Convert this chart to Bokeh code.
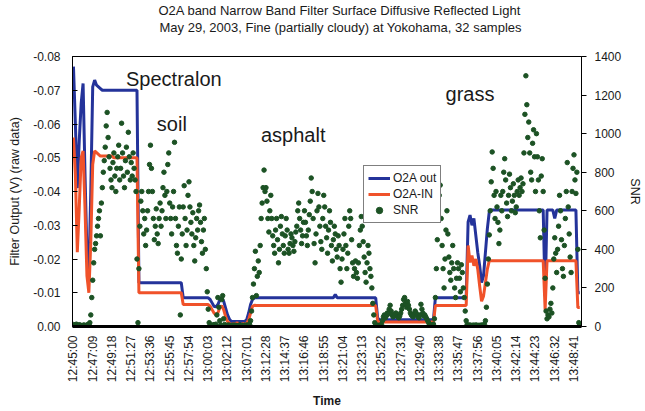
import math
from bokeh.plotting import figure
from bokeh.models import (Range1d, LinearAxis, FixedTicker, PrintfTickFormatter,
                          Label, Legend, LegendItem, Title)
from bokeh.embed import file_html
from bokeh.resources import INLINE

FONT = "Liberation Sans"

title_lines = ["O2A band Narrow Band Filter Surface Diffusive Reflected Light",
               "May 29, 2003, Fine (partially cloudy) at Yokohama, 32 samples"]

time_labels = ["12:45:00", "12:47:09", "12:49:18", "12:51:27", "12:53:36", "12:55:45",
               "12:57:54", "13:00:03", "13:02:12", "13:07:01", "13:12:28", "13:14:37",
               "13:16:46", "13:18:55", "13:21:04", "13:23:13", "13:25:22", "13:27:31",
               "13:29:40", "13:33:38", "13:35:47", "13:37:56", "13:40:05", "13:42:14",
               "13:44:23", "13:46:32", "13:48:41"]
samples_per_label = 10

o2a_out = [
    -0.077, -0.060, -0.041, -0.055, -0.066, -0.072, -0.045, -0.022, -0.015, -0.040,
    -0.071, -0.073, -0.0715, -0.071, -0.0705, -0.070, -0.070, -0.070, -0.070, -0.070,
    -0.070, -0.070, -0.070, -0.070, -0.070, -0.070, -0.070, -0.070, -0.070, -0.070,
    -0.070, -0.070, -0.070, -0.070, -0.013, -0.013, -0.013, -0.013, -0.013, -0.013,
    -0.013, -0.013, -0.013, -0.013, -0.013, -0.013, -0.013, -0.013, -0.013, -0.013,
    -0.013, -0.013, -0.013, -0.013, -0.013, -0.013, -0.013, -0.0085, -0.0085, -0.0085,
    -0.0085, -0.0085, -0.0085, -0.0085, -0.0085, -0.0085, -0.0085, -0.0085, -0.0085, -0.0085,
    -0.0085, -0.0080, -0.0070, -0.0060, -0.0058, -0.0065, -0.0078, -0.0085, -0.0075, -0.0055,
    -0.0035, -0.0022, -0.0015, -0.0015, -0.0015, -0.0015, -0.0015, -0.0015, -0.0015, -0.0015,
    -0.0020, -0.0040, -0.0065, -0.0080, -0.0085, -0.0085, -0.0085, -0.0085, -0.0085, -0.0085,
    -0.0085, -0.0085, -0.0085, -0.0085, -0.0085, -0.0085, -0.0085, -0.0085, -0.0085, -0.0085,
    -0.0085, -0.0085, -0.0085, -0.0085, -0.0085, -0.0085, -0.0085, -0.0085, -0.0085, -0.0085,
    -0.0085, -0.0085, -0.0085, -0.0085, -0.0085, -0.0085, -0.0085, -0.0085, -0.0085, -0.0085,
    -0.0085, -0.0085, -0.0085, -0.0085, -0.0085, -0.0085, -0.0095, -0.0085, -0.0085, -0.0085,
    -0.0085, -0.0085, -0.0085, -0.0085, -0.0085, -0.0085, -0.0085, -0.0085, -0.0085, -0.0085,
    -0.0085, -0.0085, -0.0085, -0.0085, -0.0085, -0.0085, -0.0085, -0.0085, -0.0025, -0.0020,
    -0.0020, -0.0020, -0.0020, -0.0020, -0.0020, -0.0020, -0.0020, -0.0020, -0.0020, -0.0020,
    -0.0020, -0.0020, -0.0020, -0.0020, -0.0020, -0.0020, -0.0020, -0.0020, -0.0020, -0.0020,
    -0.0020, -0.0020, -0.0020, -0.0020, -0.0020, -0.0020, -0.0020, -0.0020, -0.0085, -0.0085,
    -0.0085, -0.0085, -0.0085, -0.0085, -0.0085, -0.0085, -0.0085, -0.0085, -0.0085, -0.0085,
    -0.0085, -0.0085, -0.0085, -0.0085, -0.0085, -0.031, -0.033, -0.030, -0.032, -0.027,
    -0.022, -0.018, -0.013, -0.015, -0.022, -0.029, -0.034, -0.0345, -0.0345, -0.0345,
    -0.0345, -0.0345, -0.0345, -0.0345, -0.0345, -0.0345, -0.0345, -0.0345, -0.0345, -0.0345,
    -0.0345, -0.0345, -0.0345, -0.0345, -0.0345, -0.0345, -0.0345, -0.0345, -0.0345, -0.0345,
    -0.0345, -0.0345, -0.0345, -0.0345, -0.0345, -0.009, -0.0345, -0.0345, -0.0345, -0.0345,
    -0.032, -0.0345, -0.0345, -0.0345, -0.0345, -0.0345, -0.0345, -0.0345, -0.0345, -0.0345,
    -0.0345, -0.0345, -0.010, -0.010,
]

o2a_in = [
    -0.056, -0.045, -0.022, -0.035, -0.050, -0.052, -0.035, -0.015, -0.010, -0.025,
    -0.048, -0.052, -0.0515, -0.051, -0.0505, -0.0505, -0.0505, -0.0505, -0.0505, -0.0505,
    -0.0505, -0.050, -0.050, -0.050, -0.050, -0.050, -0.050, -0.050, -0.050, -0.050,
    -0.050, -0.050, -0.050, -0.050, -0.010, -0.010, -0.010, -0.010, -0.010, -0.010,
    -0.010, -0.010, -0.010, -0.010, -0.010, -0.010, -0.010, -0.010, -0.010, -0.010,
    -0.010, -0.010, -0.010, -0.010, -0.010, -0.010, -0.010, -0.0065, -0.0065, -0.0065,
    -0.0065, -0.0065, -0.0065, -0.0065, -0.0065, -0.0065, -0.0065, -0.0065, -0.0065, -0.0065,
    -0.0065, -0.0060, -0.0050, -0.0040, -0.0035, -0.0040, -0.0055, -0.0062, -0.0050, -0.0030,
    -0.0015, -0.0010, -0.0005, -0.0009, -0.0004, -0.0012, -0.0006, -0.0003, -0.0010, -0.0005,
    -0.0010, -0.0020, -0.0040, -0.0060, -0.0063, -0.0062, -0.0062, -0.0062, -0.0062, -0.0062,
    -0.0062, -0.0062, -0.0062, -0.0062, -0.0062, -0.0062, -0.0062, -0.0062, -0.0062, -0.0062,
    -0.0062, -0.0062, -0.0062, -0.0062, -0.0062, -0.0062, -0.0062, -0.0062, -0.0062, -0.0062,
    -0.0062, -0.0062, -0.0062, -0.0062, -0.0062, -0.0062, -0.0062, -0.0062, -0.0062, -0.0062,
    -0.0062, -0.0062, -0.0062, -0.0062, -0.0062, -0.0062, -0.0062, -0.0062, -0.0062, -0.0062,
    -0.0062, -0.0062, -0.0062, -0.0062, -0.0062, -0.0062, -0.0062, -0.0062, -0.0062, -0.0062,
    -0.0062, -0.0062, -0.0062, -0.0062, -0.0062, -0.0062, -0.0062, -0.0062, -0.0015, -0.0013,
    -0.0013, -0.0013, -0.0013, -0.0013, -0.0013, -0.0013, -0.0013, -0.0013, -0.0013, -0.0013,
    -0.0013, -0.0013, -0.0013, -0.0013, -0.0013, -0.0013, -0.0013, -0.0013, -0.0013, -0.0013,
    -0.0013, -0.0013, -0.0013, -0.0013, -0.0013, -0.0013, -0.0013, -0.0013, -0.0062, -0.0062,
    -0.0062, -0.0062, -0.0062, -0.0062, -0.0062, -0.0062, -0.0062, -0.0062, -0.0062, -0.0062,
    -0.0062, -0.0062, -0.0062, -0.0062, -0.0062, -0.024, -0.019, -0.021, -0.018, -0.020,
    -0.017, -0.012, -0.0075, -0.009, -0.013, -0.017, -0.0195, -0.0195, -0.0195, -0.0195,
    -0.0195, -0.0195, -0.0195, -0.0195, -0.0195, -0.0195, -0.0195, -0.0195, -0.0195, -0.0195,
    -0.0195, -0.0195, -0.0195, -0.0195, -0.0195, -0.0195, -0.0195, -0.0195, -0.0195, -0.0195,
    -0.0195, -0.0195, -0.0195, -0.0195, -0.0195, -0.005, -0.0195, -0.0195, -0.0195, -0.0195,
    -0.0195, -0.0195, -0.0195, -0.0195, -0.0195, -0.0195, -0.0195, -0.0195, -0.0195, -0.0195,
    -0.0195, -0.0195, -0.0056, -0.0056,
]

snr = [
    10, 5, 8, 12, 6, 4, 9, 7, 5, 3, 6, 8, 4, 5, 7, 10, 12, 20, 60, 150,
    240, 330, 400, 430, 470, 520, 560, 600, 470, 640, 720, 800, 860, 930, 1040, 1110, 980, 880, 820, 760,
    720, 850, 900, 780, 700, 820, 880, 940, 760, 820, 1054, 900, 780, 720, 860, 930, 800, 1007, 880, 760,
    850, 780, 900, 820, 760, 700, 350, 20, 300, 520, 650, 700, 600, 480, 560, 420, 500, 600, 700, 840,
    940, 820, 700, 560, 450, 520, 610, 480, 430, 560, 640, 520, 600, 720, 800, 680, 560, 700, 840, 900,
    640, 560, 480, 620, 700, 955, 560, 420, 380, 520, 620, 60, 350, 480, 620, 730, 560, 420, 500, 680,
    750, 620, 540, 480, 590, 420, 340, 460, 560, 500, 600, 630, 540, 440, 380, 500, 560, 400, 300, 180,
    90, 20, 5, 8, 4, 6, 10, 5, 12, 60, 150, 100, 30, 8, 140, 160, 40, 10, 6, 5,
    5, 8, 4, 6, 3, 5, 7, 4, 6, 5, 3, 4, 6, 8, 5, 4, 6, 3, 5, 7,
    5, 8, 6, 10, 30, 80, 150, 220, 300, 390, 160, 260, 340, 280, 420, 560, 640, 720, 811, 700,
    720, 650, 560, 490, 600, 680, 560, 470, 420, 380, 500, 560, 450, 330, 400, 520, 570, 480, 420, 380,
    470, 560, 500, 400, 380, 430, 480, 460, 420, 390, 440, 490, 520, 600, 640, 560, 500, 430, 470, 540,
    600, 540, 470, 420, 500, 580, 650, 770, 700, 560, 430, 330, 480, 600, 690, 620, 520, 440, 400, 560,
    680, 620, 520, 460, 380, 500, 600, 540, 420, 340, 450, 520, 480, 400, 360, 470, 420, 300, 230, 350,
    400, 480, 560, 420, 300, 380, 520, 600, 560, 450, 330, 260, 300, 340, 280, 250, 330, 420, 500, 570,
    520, 440, 360, 280, 230, 330, 420, 380, 300, 260, 200, 120, 60, 20, 8, 5, 6, 4, 7, 5,
    10, 30, 50, 60, 45, 55, 70, 65, 90, 110, 80, 60, 50, 55, 65, 70, 60, 50, 45, 55,
    70, 90, 110, 140, 150, 120, 100, 130, 110, 90, 70, 60, 55, 50, 65, 80, 70, 60, 50, 45,
    60, 115, 90, 70, 55, 60, 50, 40, 30, 20, 10, 6, 5, 8, 12, 40, 150, 300, 450, 600,
    680, 733, 560, 420, 300, 200, 350, 500, 600, 480, 360, 280, 240, 330, 420, 300, 200, 150, 250, 330,
    300, 250, 180, 320, 280, 200, 150, 80, 30, 10, 5, 6, 8, 4, 5, 7, 6, 5, 8, 6,
    5, 6, 4, 7, 5, 8, 6, 10, 30, 100, 220, 350, 475, 600, 750, 905, 820, 680, 560, 700,
    620, 540, 430, 500, 680, 600, 700, 800, 870, 760, 640, 570, 680, 790, 720, 600, 650, 740, 680, 590,
    620, 700, 760, 680, 720, 770, 700, 740, 900, 1100, 1300, 1150, 980, 1060, 900, 800, 760, 950, 1020, 880,
    700, 1000, 880, 760, 600, 460, 780, 870, 700, 500, 250, 80, 40, 60, 50, 90, 120, 70, 200, 350,
    460, 380, 280, 400, 520, 680, 600, 450, 300, 260, 420, 560, 700, 850, 620, 480, 360, 280, 700, 820,
    890, 760, 690, 800, 400, 20, 10,
]

surface_names = ["Spectralon", "soil", "asphalt", "grass"]
surface_x = [27.3, 43.3, 97.4, 193.3]
surface_y = [-0.0733, -0.0601, -0.0568, -0.0689]

left_ticks = [0.0, -0.01, -0.02, -0.03, -0.04, -0.05, -0.06, -0.07, -0.08]
right_ticks = [0, 200, 400, 600, 800, 1000, 1200, 1400]

x_line = list(range(len(o2a_out)))
x_snr = [k / 2 for k in range(len(snr))]

BLUE = "#24339a"
RED = "#f0522a"
GREEN = "#1c5224"
TXT = "#1a1a1a"

p = figure(width=645, height=411, output_backend="svg", toolbar_location=None,
           title=None,
           x_range=Range1d(-0.5, 263.9), y_range=Range1d(0, -0.08),
           min_border_left=72, min_border_right=60, min_border_top=56, min_border_bottom=83)
p.extra_y_ranges = {"snr": Range1d(0, 1400)}
p.xgrid.visible = False
p.ygrid.visible = False
p.outline_line_color = "black"
p.outline_line_width = 1
p.background_fill_color = "white"
p.border_fill_color = "white"

r_out = p.line(x_line, o2a_out, line_color=BLUE, line_width=3)
r_in = p.line(x_line, o2a_in, line_color=RED, line_width=3)
r_snr = p.scatter(x_snr, snr, y_range_name="snr", size=4.5, marker="circle",
                  fill_color=GREEN, line_color=GREEN)

# x axis
xa = p.xaxis[0]
xa.ticker = FixedTicker(ticks=[k * samples_per_label for k in range(len(time_labels))])
xa.major_label_overrides = {k * samples_per_label: t for k, t in enumerate(time_labels)}
xa.major_label_orientation = math.pi / 2
xa.major_label_text_font = FONT
xa.major_label_text_font_size = "12px"
xa.major_label_text_color = TXT
xa.major_label_standoff = 9
xa.major_tick_out = 0
xa.major_tick_in = 0
xa.minor_tick_out = 0
xa.minor_tick_in = 0
xa.axis_line_width = 3
xa.axis_line_color = "black"
xa.axis_label = "Time"
xa.axis_label_text_font = FONT
xa.axis_label_text_font_size = "12px"
xa.axis_label_text_font_style = "bold"
xa.axis_label_text_color = TXT
xa.axis_label_standoff = 9

# left axis
ya = p.yaxis[0]
ya.ticker = FixedTicker(ticks=left_ticks)
ya.formatter = PrintfTickFormatter(format="%.2f")
ya.major_label_text_font = FONT
ya.major_label_text_font_size = "12px"
ya.major_label_text_color = TXT
ya.major_tick_in = 5
ya.major_tick_out = 0
ya.minor_tick_in = 0
ya.minor_tick_out = 0
ya.major_label_standoff = 12
ya.axis_label = "Filter Output (V) (raw data)"
ya.axis_label_text_font = FONT
ya.axis_label_text_font_size = "12.5px"
ya.axis_label_text_font_style = "normal"
ya.axis_label_text_color = TXT
ya.axis_label_standoff = 8

# right axis
ra = LinearAxis(y_range_name="snr")
ra.ticker = FixedTicker(ticks=right_ticks)
ra.major_label_text_font = FONT
ra.major_label_text_font_size = "12px"
ra.major_label_text_color = TXT
ra.major_tick_out = 5
ra.major_tick_in = 0
ra.minor_tick_in = 0
ra.minor_tick_out = 0
ra.major_label_standoff = 8
ra.axis_label = "SNR"
ra.axis_label_text_font = FONT
ra.axis_label_text_font_size = "12.5px"
ra.axis_label_text_font_style = "normal"
ra.axis_label_text_color = TXT
ra.axis_label_standoff = 4
p.add_layout(ra, "right")

# title: spacer nearest the frame, then line 2, then line 1 on top
spacer = Title(text=" ", text_font=FONT, text_font_size="2px", standoff=18)
sub = Title(text=title_lines[1], align="left", offset=87,
            text_font=FONT, text_font_size="13px",
            text_font_style="normal", text_color=TXT, standoff=0)
main = Title(text=title_lines[0], align="left", offset=86,
             text_font=FONT, text_font_size="13px",
             text_font_style="normal", text_color=TXT, standoff=0)
p.add_layout(spacer, "above")
p.add_layout(sub, "above")
p.add_layout(main, "above")

# legend
legend = Legend(items=[LegendItem(label="O2A out", renderers=[r_out]),
                       LegendItem(label="O2A-IN", renderers=[r_in]),
                       LegendItem(label="SNR", renderers=[r_snr])],
                location=(291, 103))
legend.border_line_color = "black"
legend.border_line_width = 1
legend.background_fill_color = "white"
legend.background_fill_alpha = 1
legend.label_text_font = FONT
legend.label_text_font_size = "12px"
legend.label_text_color = TXT
legend.padding = 4
legend.spacing = 0
legend.margin = 0
legend.glyph_width = 22
legend.glyph_height = 16
legend.label_height = 16
legend.label_standoff = 3
p.add_layout(legend)

# surface annotations
for name, sx, sy in zip(surface_names, surface_x, surface_y):
    p.add_layout(Label(x=sx, y=sy, text=name, text_font=FONT, text_font_size="20px",
                       text_color=TXT, text_baseline="alphabetic", text_align="left"))

open("out.html", "w").write(file_html(p, INLINE))
